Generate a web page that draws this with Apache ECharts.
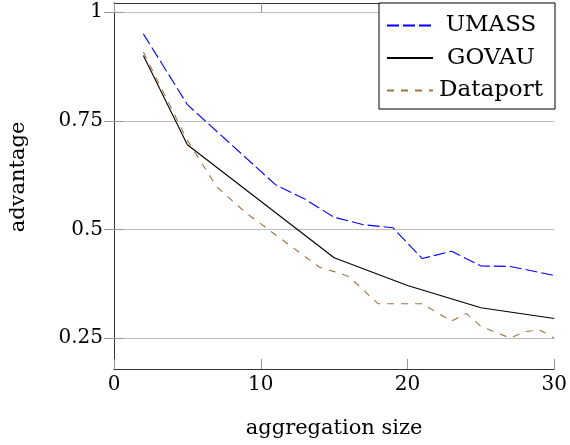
<!DOCTYPE html>
<html>
<head>
<meta charset="utf-8">
<script src="https://cdn.jsdelivr.net/npm/echarts@6/dist/echarts.min.js"></script>
<style>html,body{margin:0;padding:0;background:#fff}#c{width:570px;height:445px}</style>
</head>
<body>
<div id="c"></div>
<script>
const seriesNames = ['UMASS', 'GOVAU', 'Dataport'];
const umassX = [2, 5, 11, 13, 15, 17, 19, 21, 23, 25, 27, 30];
const umassY = [0.95, 0.787, 0.603, 0.57, 0.528, 0.511, 0.504, 0.433, 0.45, 0.416, 0.415, 0.394];
const govauX = [2, 5, 15, 20, 25, 30];
const govauY = [0.90, 0.695, 0.435, 0.371, 0.32, 0.295];
const dataportX = [2, 5, 7, 9, 11, 14, 15, 16, 18, 21, 23, 24, 25, 27, 28, 29, 30];
const dataportY = [0.908, 0.705, 0.598, 0.538, 0.488, 0.413, 0.403, 0.392, 0.329, 0.329, 0.289, 0.307, 0.277, 0.25, 0.265, 0.269, 0.25];
const yTicks = [0.25, 0.5, 0.75, 1];
const xTitle = 'aggregation size';
const yTitle = 'advantage';

const pairs = (xs, ys) => xs.map((x, i) => [x, ys[i]]);
const FONT = 'DejaVu Serif';
const chart = echarts.init(document.getElementById('c'), null, {renderer: 'canvas'});
const axisLineStyle = {color: '#333', width: 1};
const tickStyle = {color: '#999', width: 1};
chart.setOption({
  animation: false,
  backgroundColor: '#fff',
  grid: {left: 112, right: 13, top: 3, bottom: 76},
  legend: {
    orient: 'vertical',
    right: 15, top: 3,
    backgroundColor: '#fff',
    borderColor: '#000', borderWidth: 1,
    padding: [11, 11, 7, 7],
    itemGap: 9.5,
    itemWidth: 46, itemHeight: 14,
    itemStyle: {opacity: 0},
    formatter: '{a|{name}}',
    textStyle: {
      rich: {a: {width: 106, align: 'center', fontFamily: FONT, fontSize: 23, lineHeight: 23, color: '#000'}}
    },
    data: seriesNames
  },
  xAxis: [{
    type: 'value', min: 0, max: 30, interval: 10,
    name: xTitle, nameLocation: 'middle', nameGap: 49,
    nameTextStyle: {fontFamily: FONT, fontSize: 21, color: '#000'},
    axisLine: {show: true, lineStyle: axisLineStyle},
    axisTick: {show: true, inside: true, length: 10, lineStyle: tickStyle},
    axisLabel: {fontFamily: FONT, fontSize: 20, color: '#000', margin: 6},
    splitLine: {show: false}
  }, {
    type: 'value', min: 0, max: 30, interval: 10, position: 'top',
    axisLine: {show: true, lineStyle: axisLineStyle},
    axisTick: {show: true, inside: true, length: 10, lineStyle: tickStyle},
    axisLabel: {show: false},
    splitLine: {show: false}
  }],
  yAxis: [{
    type: 'value', min: 0.179, max: 1.021,
    name: yTitle, nameLocation: 'middle', nameGap: 85, nameRotate: 90,
    nameTextStyle: {fontFamily: FONT, fontSize: 21, color: '#000', padding: [0, 0, 0, 18]},
    axisLine: {show: true, lineStyle: axisLineStyle},
    axisTick: {show: true, inside: true, length: 10, lineStyle: tickStyle, customValues: yTicks},
    axisLabel: {fontFamily: FONT, fontSize: 20, color: '#000', margin: 11, customValues: yTicks},
    splitLine: {show: true, lineStyle: {color: '#bdbdbd', width: 1}}
  }, {
    type: 'value', min: 0.179, max: 1.021, position: 'right',
    axisLine: {show: true, lineStyle: axisLineStyle},
    axisTick: {show: true, inside: true, length: 10, lineStyle: tickStyle, customValues: yTicks},
    axisLabel: {show: false, customValues: yTicks},
    splitLine: {show: false}
  }],
  series: [{
    name: seriesNames[0], type: 'line', symbol: 'none', xAxisIndex: 0, yAxisIndex: 0,
    data: pairs(umassX, umassY),
    lineStyle: {color: '#0000ff', width: 1.1, type: [12, 4]}, itemStyle: {color: '#0000ff'}
  }, {
    name: seriesNames[1], type: 'line', symbol: 'none', xAxisIndex: 0, yAxisIndex: 0,
    data: pairs(govauX, govauY),
    lineStyle: {color: '#000000', width: 1.1, type: 'solid'}, itemStyle: {color: '#000000'}
  }, {
    name: seriesNames[2], type: 'line', symbol: 'none', xAxisIndex: 0, yAxisIndex: 0,
    data: pairs(dataportX, dataportY),
    lineStyle: {color: '#a0723f', width: 1.1, type: [7, 7]}, itemStyle: {color: '#a0723f'}
  }]
});
</script>
</body>
</html>
